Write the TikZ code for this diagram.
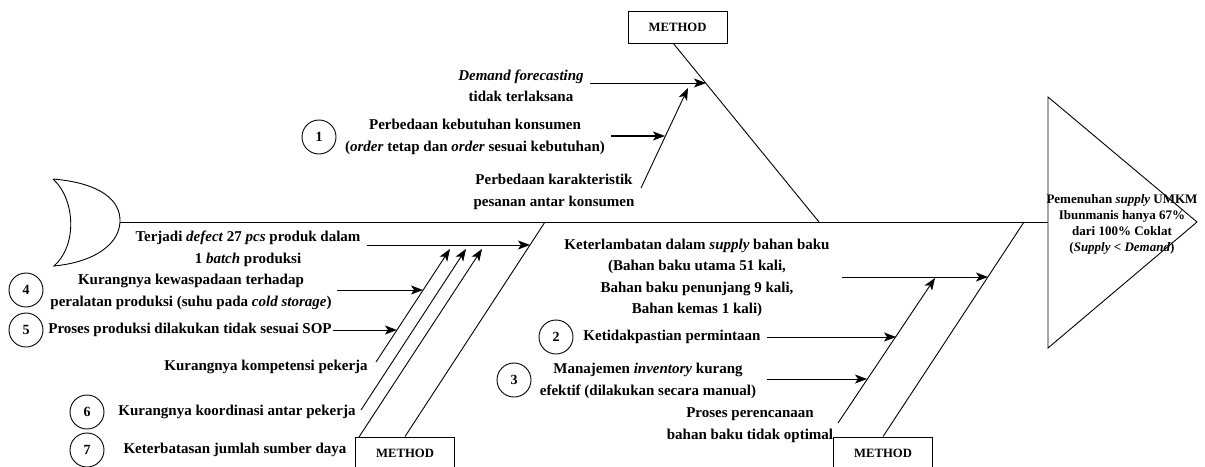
\documentclass[tikz,border=0pt]{standalone}
\usepackage{fontspec}
\setmainfont{Liberation Serif}
\usetikzlibrary{arrows.meta}
\begin{document}
\begin{tikzpicture}[x=1pt,y=-1pt,
  ln/.style={line width=0.9pt},
  arr/.style={line width=0.9pt,-{Stealth[length=12pt,width=9pt,inset=3pt]}},
  txt/.style={font=\fontsize{15}{21.5}\selectfont\bfseries, align=center, inner sep=0pt},
  num/.style={draw, circle, minimum size=34pt, inner sep=0pt, line width=0.9pt, font=\fontsize{14}{16}\selectfont\bfseries},
  mbox/.style={draw, rectangle, line width=0.9pt, minimum width=99pt, minimum height=32pt, inner sep=0pt, font=\fontsize{12.7}{14}\selectfont\bfseries},
  head/.style={font=\fontsize{13}{16}\selectfont\bfseries, align=center, inner sep=0pt}
]
\useasboundingbox (0,0) rectangle (1205,466);

% tail
\draw[ln] (53,179) .. controls (100,183) and (121,200) .. (120,222)
  .. controls (119,244) and (95,262) .. (54,266)
  .. controls (77,246) and (76,200) .. (53,179);

% head triangle
\coordinate (hA) at (1048,97);
\coordinate (hB) at (1197,222);
\coordinate (hC) at (1048,348);
\draw[ln] (hA) -- (hB) -- (hC) -- cycle;
\node[head] (headtxt) at (1122,224) {Pemenuhan \textit{supply} UMKM\\Ibunmanis hanya 67\%\\dari 100\% Coklat\\(\textit{Supply} < \textit{Demand})};

% spine
\coordinate (tailR) at (120,222);
\coordinate (headL) at (1048,222);
\draw[ln] (tailR) -- (headL);

% METHOD boxes
\node[mbox] (mtop) at (677.5,27) {METHOD};
\node[mbox] (mbl) at (405,453) {METHOD};
\node[mbox] (mbr) at (883,453) {METHOD};

% main bones
\coordinate (topS) at (673,43);
\coordinate (topE) at (819,222);
\draw[ln] (topS) -- (topE);
\coordinate (blE) at (545,222);
\draw[ln] (mbl.north) -- (blE);
\coordinate (brE) at (1024,222);
\draw[ln] (mbr.north) -- (brE);

% top sub-branch
\coordinate (ts1) at (641,188);
\coordinate (ts2) at (688,88);
\draw[arr] (ts1) -- (ts2);

% bottom-left sub-branches
\coordinate (l1a) at (376,362); \coordinate (l1b) at (450,249);
\coordinate (l2a) at (361,410); \coordinate (l2b) at (466,249);
\coordinate (l3a) at (359,437); \coordinate (l3b) at (482,249);
\draw[arr] (l1a) -- (l1b);
\draw[arr] (l2a) -- (l2b);
\draw[arr] (l3a) -- (l3b);

% bottom-right sub-branch
\coordinate (rs1) at (838,423);
\coordinate (rs2) at (935,278);
\draw[arr] (rs1) -- (rs2);

% texts top
\node[txt] (tDF) at (521,86) {\textit{Demand forecasting}\\tidak terlaksana};
\node[num] (c1) at (319,137) {1};
\node[txt] (tPK) at (475,137) {Perbedaan kebutuhan konsumen\\(\textit{order} tetap dan \textit{order} sesuai kebutuhan)};
\node[txt] (tPC) at (554,192) {Perbedaan karakteristik\\pesanan antar konsumen};

% arrows top
\coordinate (aDF1) at (590,83); \coordinate (aDF2) at (706,83);
\draw[arr] (aDF1) -- (aDF2);
\coordinate (aPK1) at (611,136); \coordinate (aPK2) at (665,136);
\draw[arr, line width=1.8pt] (aPK1) -- (aPK2);

% texts bottom-left
\node[txt] (tDef) at (248,249) {Terjadi \textit{defect} 27 \textit{pcs} produk dalam\\1 \textit{batch} produksi};
\node[num] (c4) at (26,290) {4};
\node[txt] (tKW) at (191,292) {Kurangnya kewaspadaan terhadap\\peralatan produksi (suhu pada \textit{cold storage})};
\node[num] (c5) at (26,330) {5};
\node[txt] (tSOP) at (190,330) {Proses produksi dilakukan tidak sesuai SOP};
\node[txt] (tKomp) at (266,367) {Kurangnya kompetensi pekerja};
\node[num] (c6) at (87,412) {6};
\node[txt] (tKoor) at (237,412) {Kurangnya koordinasi antar pekerja};
\node[num] (c7) at (87,450) {7};
\node[txt] (tSD) at (235,450) {Keterbatasan jumlah sumber daya};

% arrows bottom-left
\coordinate (aDe1) at (367,245); \coordinate (aDe2) at (530,245);
\draw[arr] (aDe1) -- (aDe2);
\coordinate (a41) at (337,290); \coordinate (a42) at (423,290);
\draw[arr] (a41) -- (a42);
\coordinate (a51) at (333,330); \coordinate (a52) at (397,330);
\draw[arr] (a51) -- (a52);

% texts bottom-right
\node[txt] (tKet) at (697,278) {Keterlambatan dalam \textit{supply} bahan baku\\(Bahan baku utama 51 kali,\\Bahan baku penunjang 9 kali,\\Bahan kemas 1 kali)};
\node[num] (c2) at (556,337) {2};
\node[txt] (tKP) at (672,337) {Ketidakpastian permintaan};
\node[num] (c3) at (514,380) {3};
\node[txt] (tMI) at (648,381) {Manajemen \textit{inventory} kurang\\efektif (dilakukan secara manual)};
\node[txt] (tPP) at (750,425) {Proses perencanaan\\bahan baku tidak optimal};

% arrows bottom-right
\coordinate (aK1) at (842,277); \coordinate (aK2) at (988,277);
\draw[arr] (aK1) -- (aK2);
\coordinate (a21) at (767,337); \coordinate (a22) at (896,337);
\draw[arr] (a21) -- (a22);
\coordinate (a31) at (767,379); \coordinate (a32) at (867,379);
\draw[arr] (a31) -- (a32);
\end{tikzpicture}
\end{document}
